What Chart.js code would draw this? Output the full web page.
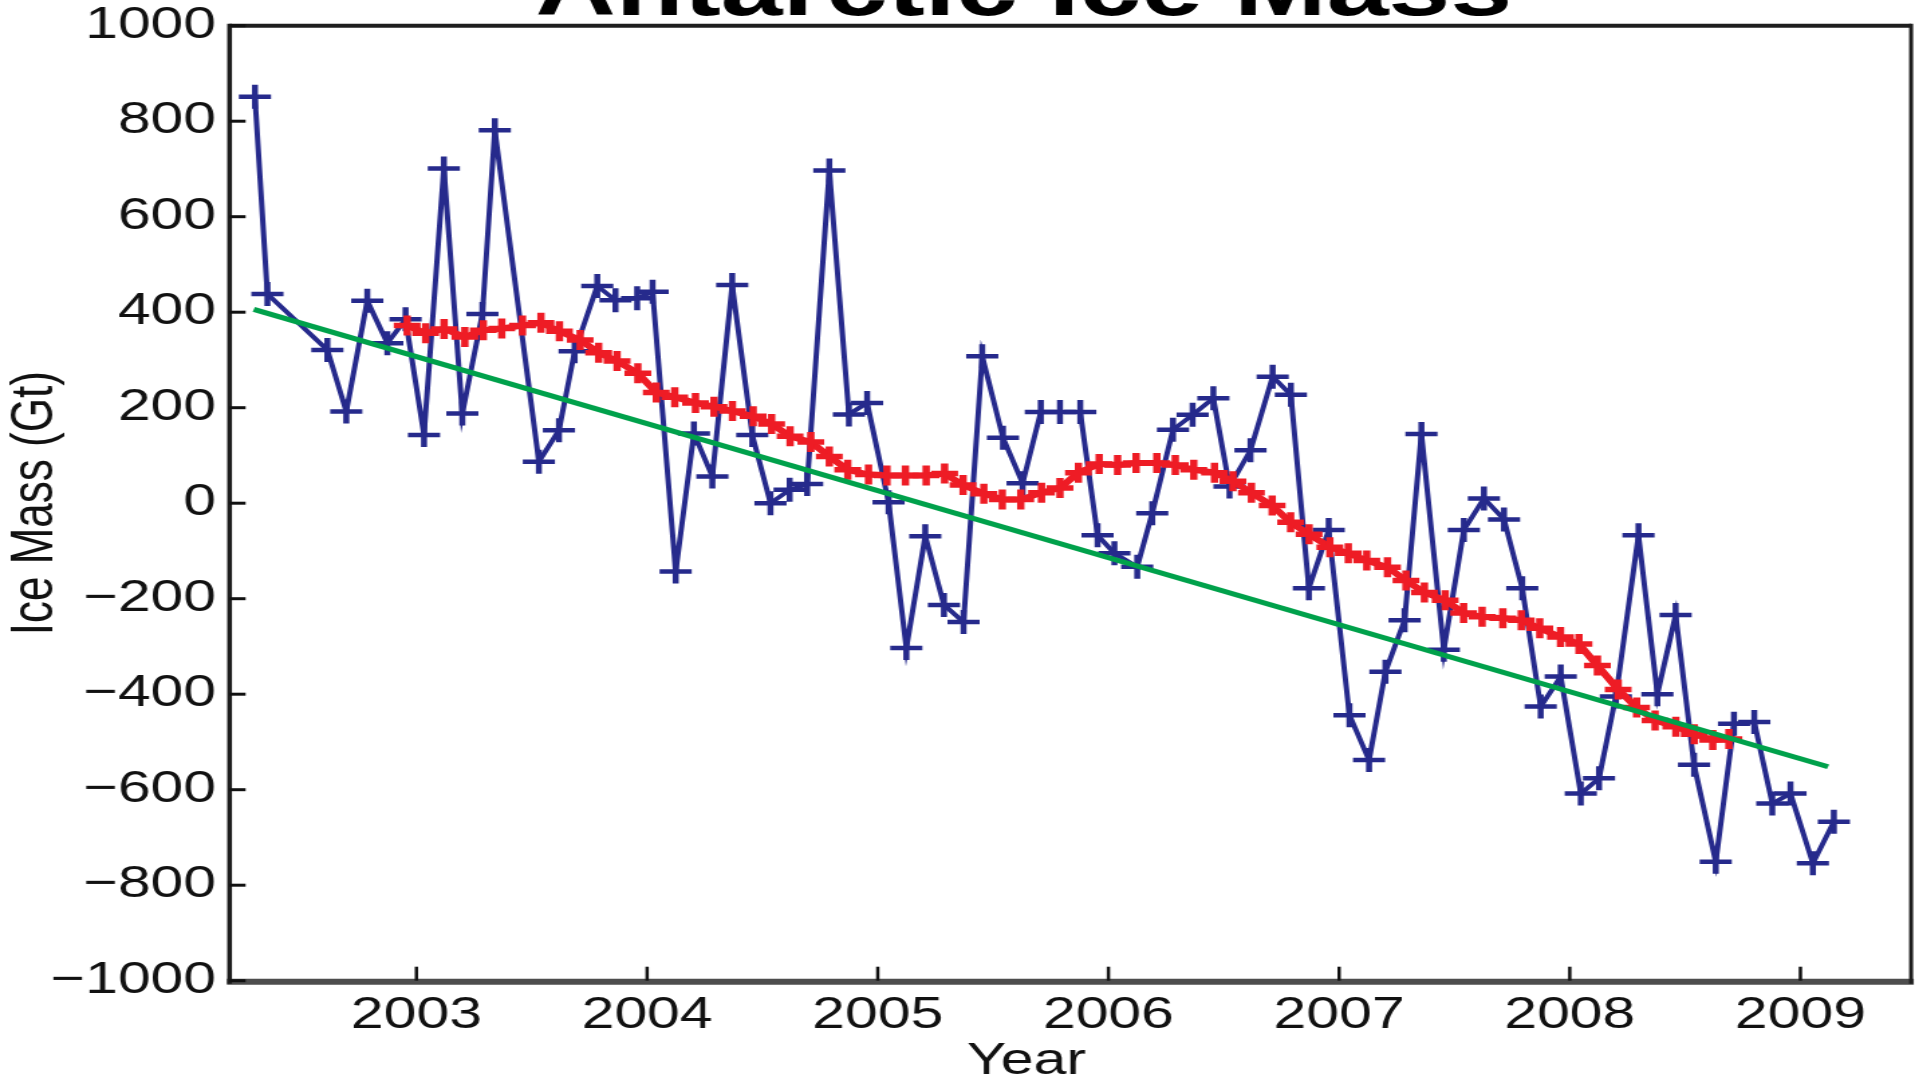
<!DOCTYPE html>
<html>
<head>
<meta charset="utf-8">
<title>Antarctic Ice Mass</title>
<script src="https://cdn.jsdelivr.net/npm/chart.js@4.4.1/dist/chart.umd.min.js"></script>
<style>
  html, body { margin: 0; padding: 0; background: #fff; overflow: hidden; }
  /* the figure is laid out narrow and stretched horizontally */
  #wrap { position: absolute; left: 0; top: 0; width: 1429px; height: 1077px;
          transform: scaleX(1.3401); transform-origin: 0 0; }
  canvas { display: block; }
</style>
</head>
<body>
<div id="wrap"><canvas id="c" width="1429" height="1077" style="width:1429px;height:1077px"></canvas></div>
<script>
// GRACE monthly Antarctic ice mass anomaly (Gt)
const monthlyYears = [
  2002.300, 2002.354, 2002.614, 2002.696, 2002.787, 2002.874, 2002.953, 2003.033,
  2003.119, 2003.199, 2003.286, 2003.340, 2003.531, 2003.618, 2003.686, 2003.784,
  2003.863, 2003.957, 2004.024, 2004.124, 2004.203, 2004.283, 2004.369, 2004.456,
  2004.535, 2004.618, 2004.694, 2004.790, 2004.875, 2004.954, 2005.047, 2005.124,
  2005.206, 2005.287, 2005.372, 2005.453, 2005.543, 2005.628, 2005.707, 2005.790,
  2005.878, 2005.953, 2006.026, 2006.125, 2006.190, 2006.280, 2006.365, 2006.455,
  2006.525, 2006.616, 2006.712, 2006.791, 2006.869, 2006.955, 2007.045, 2007.130,
  2007.201, 2007.284, 2007.357, 2007.454, 2007.541, 2007.628, 2007.715, 2007.794,
  2007.874, 2007.961, 2008.048, 2008.127, 2008.200, 2008.298, 2008.380, 2008.459,
  2008.539, 2008.633, 2008.712, 2008.800, 2008.878, 2008.957, 2009.054, 2009.145
];
const monthlyMass = [
   851,  438,  321,  192,  424,  335,  385,  143,
   701,  188,  396,  781,   87,  153,  318,  455,
   425,  429,  443, -143,  146,   56,  457,  143,
     0,   28,   40,  697,  186,  210,    2, -303,
   -69, -213, -249,  308,  137,   42,  191,  191,
   191,  -67, -105, -133,  -21,  154,  185,  220,
    35,  111,  265,  227, -178,  -56, -444, -538,
  -353, -245,  145, -307,  -56,   10,  -34, -178,
  -426, -363, -608, -576, -405,  -67, -400, -234,
  -548, -751, -462, -458, -629, -608, -754, -667
];

// running-mean curve
const smoothYears = [
  2002.96,
  2003.04, 2003.12, 2003.21, 2003.29, 2003.37, 2003.46, 2003.54, 2003.62, 2003.71, 2003.79, 2003.87, 2003.96,
  2004.04, 2004.12, 2004.21, 2004.29, 2004.37, 2004.46, 2004.54, 2004.62, 2004.71, 2004.79, 2004.87, 2004.96,
  2005.04, 2005.12, 2005.21, 2005.29, 2005.37, 2005.46, 2005.54, 2005.62, 2005.71, 2005.79, 2005.87, 2005.96,
  2006.04, 2006.12, 2006.21, 2006.29, 2006.37, 2006.46, 2006.54, 2006.62, 2006.71, 2006.79, 2006.87, 2006.96,
  2007.04, 2007.12, 2007.21, 2007.29, 2007.37, 2007.46, 2007.54, 2007.62, 2007.71, 2007.79, 2007.87, 2007.96,
  2008.04, 2008.12, 2008.21, 2008.29, 2008.37, 2008.46, 2008.54, 2008.62, 2008.69
];
const smoothMass = [
   372,
   356,  365,  348,  362,  366,  372,  378,  360,  342,  315,  298,  272,
   232,  222,  210,  202,  193,  182,  166,  140,  128,   98,   70,   60,
    58,   58,   58,   62,   38,   20,    8,    8,   22,   32,   64,   82,
    80,   84,   84,   80,   70,   64,   46,   22,   -5,  -40,  -65,  -92,
  -105, -120, -134, -162, -187, -203, -230, -238, -241, -245, -262, -280,
  -295, -340, -390, -428, -455, -468, -484, -496, -494
];

// least-squares trend line end points
const trendYears = [2002.295, 2009.12];
const trendMass = [406, -552];

const yearTicks = [2003, 2004, 2005, 2006, 2007, 2008, 2009];
const massTicks = [-1000, -800, -600, -400, -200, 0, 200, 400, 600, 800, 1000];
const massTickLabels = ['\u22121000', '\u2212800', '\u2212600', '\u2212400', '\u2212200', '0',
                        '200', '400', '600', '800', '1000'];

const BLUE = '#262a8c';
const RED = '#ee1c25';
const GREEN = '#00a14b';
const FONT = '"Liberation Sans", Arial, Helvetica, sans-serif';

const toPoints = (xs, ys) => xs.map((x, i) => ({ x: x, y: ys[i] }));

// axes box and inward tick marks
const frame = {
  id: 'frame',
  afterDatasetsDraw(chart) {
    const { ctx, chartArea: a, scales: { x, y } } = chart;
    ctx.save();
    ctx.lineCap = 'butt';
    // bottom axis
    ctx.strokeStyle = '#4d4d4d';
    ctx.lineWidth = 6;
    ctx.beginPath(); ctx.moveTo(a.left - 2, a.bottom + 1); ctx.lineTo(a.right + 2, a.bottom + 1); ctx.stroke();
    // left axis
    ctx.strokeStyle = '#1e1e1e';
    ctx.lineWidth = 3.5;
    ctx.beginPath(); ctx.moveTo(a.left, a.top - 2); ctx.lineTo(a.left, a.bottom + 3); ctx.stroke();
    // top and right edges
    ctx.lineWidth = 4;
    ctx.beginPath(); ctx.moveTo(a.left, a.top); ctx.lineTo(a.right, a.top); ctx.stroke();
    ctx.lineWidth = 3;
    ctx.beginPath(); ctx.moveTo(a.right, a.top - 2); ctx.lineTo(a.right, a.bottom + 3); ctx.stroke();
    // ticks
    ctx.strokeStyle = '#111';
    ctx.lineWidth = 3;
    y.ticks.forEach(t => {
      const py = y.getPixelForValue(t.value);
      ctx.beginPath(); ctx.moveTo(a.left, py); ctx.lineTo(a.left + 12, py); ctx.stroke();
    });
    ctx.lineWidth = 2.5;
    x.ticks.forEach(t => {
      const px = x.getPixelForValue(t.value);
      ctx.beginPath(); ctx.moveTo(px, a.bottom); ctx.lineTo(px, a.bottom - 14); ctx.stroke();
    });
    ctx.restore();
  }
};

// figure heading and x-axis caption
const captions = {
  id: 'captions',
  afterDraw(chart) {
    const { ctx } = chart;
    ctx.save();
    ctx.fillStyle = '#000';
    ctx.textAlign = 'center';
    ctx.textBaseline = 'alphabetic';
    ctx.font = 'bold 83px ' + FONT;
    ctx.fillText('Antarctic Ice Mass', 764, 15);
    ctx.fillStyle = '#111';
    ctx.font = '44px ' + FONT;
    ctx.fillText('Year', 766, 1074);
    ctx.restore();
  }
};

new Chart(document.getElementById('c'), {
  type: 'scatter',
  data: {
    datasets: [
      {
        label: 'Trend',
        data: toPoints(trendYears, trendMass),
        showLine: true,
        borderColor: GREEN,
        borderWidth: 5,
        pointRadius: 0,
        order: 1
      },
      {
        label: 'Running mean',
        data: toPoints(smoothYears, smoothMass),
        showLine: true,
        borderColor: RED,
        borderWidth: 6,
        pointStyle: 'cross',
        pointRadius: 10,
        pointBorderWidth: 5.5,
        pointBorderColor: RED,
        pointBackgroundColor: RED,
        order: 2
      },
      {
        label: 'Monthly',
        data: toPoints(monthlyYears, monthlyMass),
        showLine: true,
        borderColor: BLUE,
        borderWidth: 4,
        pointStyle: 'cross',
        pointRadius: 12,
        pointBorderWidth: 4.5,
        pointBorderColor: BLUE,
        pointBackgroundColor: BLUE,
        order: 3
      }
    ]
  },
  options: {
    responsive: false,
    animation: false,
    devicePixelRatio: 1,
    layout: { autoPadding: false, padding: { top: 25.7, right: 2.9, left: 0, bottom: 0 } },
    plugins: { legend: { display: false }, tooltip: { enabled: false }, title: { display: false } },
    scales: {
      x: {
        type: 'linear',
        min: 2002.19,
        max: 2009.48,
        afterBuildTicks: s => { s.ticks = yearTicks.map(v => ({ value: v })); },
        afterFit: s => { s.height = 96.3; s.paddingLeft = 0; s.paddingRight = 0; },
        grid: { display: false, drawTicks: false },
        border: { display: false },
        ticks: {
          padding: 9,
          color: '#111',
          autoSkip: false,
          maxRotation: 0,
          font: { family: FONT, size: 44 },
          callback: v => String(v)
        },
        title: { display: false }
      },
      y: {
        type: 'linear',
        min: -1000,
        max: 1000,
        afterBuildTicks: s => { s.ticks = massTicks.map(v => ({ value: v })); },
        afterFit: s => { s.width = 171.3; s.paddingTop = 0; s.paddingBottom = 0; },
        grid: { display: false, drawTicks: false },
        border: { display: false },
        ticks: {
          padding: 10,
          color: '#111',
          autoSkip: false,
          font: { family: FONT, size: 44 },
          callback: v => massTickLabels[massTicks.indexOf(v)]
        },
        title: {
          display: true,
          text: 'Ice Mass (Gt)',
          color: '#111',
          font: { family: FONT, size: 44 },
          padding: { top: 0, bottom: 0 }
        }
      }
    }
  },
  plugins: [frame, captions]
});
</script>
</body>
</html>
